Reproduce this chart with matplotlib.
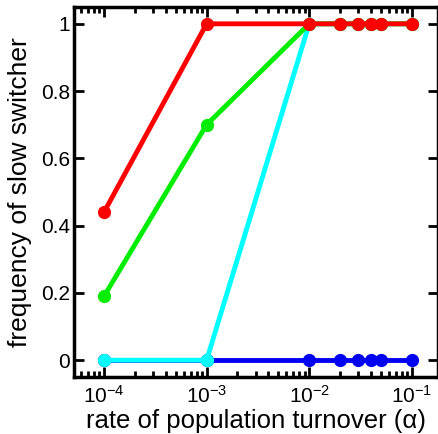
import matplotlib
matplotlib.use("Agg")
import matplotlib.pyplot as plt
from matplotlib.ticker import LogLocator, NullFormatter

plt.rcParams['font.family'] = ['Liberation Sans', 'DejaVu Sans']
plt.rcParams['mathtext.fontset'] = 'custom'
plt.rcParams['mathtext.rm'] = 'Liberation Sans'
plt.rcParams['mathtext.it'] = 'Liberation Sans'

alpha = [1e-4, 1e-3, 1e-2, 2e-2, 3e-2, 4e-2, 5e-2, 1e-1]
blue_vals = [0, 0, 0, 0, 0, 0, 0, 0]
cyan_vals = [0, 0, 1, 1, 1, 1, 1, 1]
green_vals = [0.19, 0.70, 1, 1, 1, 1, 1, 1]
red_vals = [0.44, 1, 1, 1, 1, 1, 1, 1]
xtick_vals = [1e-4, 1e-3, 1e-2, 1e-1]
xtick_labels = [r'$10^{-4}$', r'$10^{-3}$', r'$10^{-2}$', r'$10^{-1}$']
ytick_vals = [0, 0.2, 0.4, 0.6, 0.8, 1]
ytick_labels = ['0', '0.2', '0.4', '0.6', '0.8', '1']

series = [(blue_vals, (0, 0, 0.95)), (cyan_vals, (0, 1, 1)),
          (green_vals, (0, 0.93, 0)), (red_vals, (1, 0, 0))]

fig = plt.figure(figsize=(4.38, 4.34), dpi=100)
ax = fig.add_axes([74/438, 57/434, 1 - 74/438, (377-7)/434])

for vals, c in series:
    ax.plot(alpha, vals, '-o', color=c, lw=3.5, ms=8.5, mec=c, mfc=c, clip_on=False)

ax.set_xscale('log')
ax.set_xlim(5.1e-5, 1.8e-1)
ax.set_ylim(-0.05, 1.05)
ax.set_xticks(xtick_vals)
ax.set_xticklabels(xtick_labels)
ax.xaxis.set_minor_locator(LogLocator(base=10, subs=range(2, 10), numticks=20))
ax.xaxis.set_minor_formatter(NullFormatter())
ax.set_yticks(ytick_vals)
ax.set_yticklabels(ytick_labels)

for s in ax.spines.values():
    s.set_linewidth(2.5)
ax.tick_params(which='both', direction='in', top=True, right=True, width=2, labelsize=15)
ax.tick_params(axis='y', pad=3)
ax.tick_params(axis='x', pad=6)
ax.tick_params(which='major', length=7)
ax.tick_params(which='minor', length=4)

ax.set_xlabel('rate of population turnover (α)', fontsize=18.5, labelpad=1)
ax.set_ylabel('frequency of slow switcher', fontsize=19, labelpad=6)

fig.savefig('out.png', dpi=100)
